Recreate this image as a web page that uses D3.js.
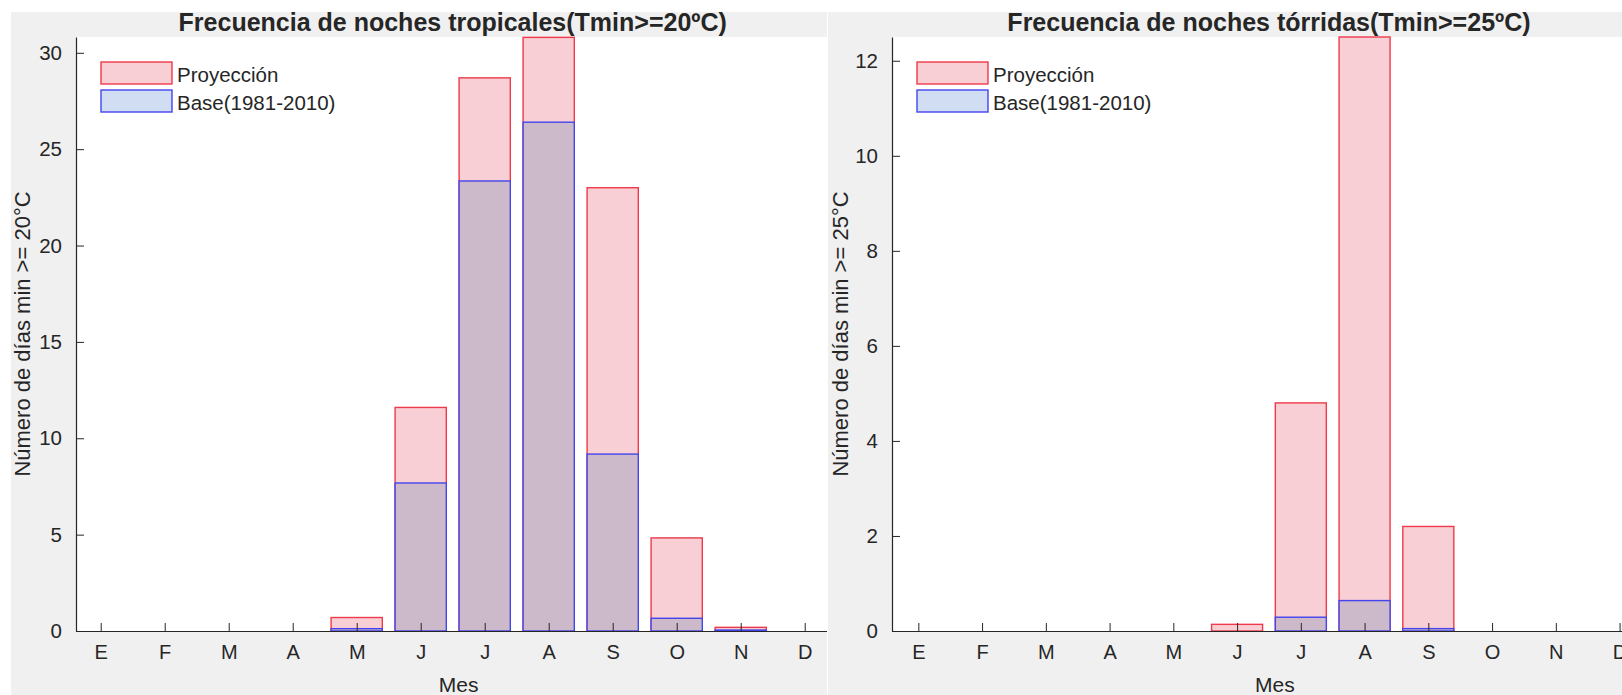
<!DOCTYPE html>
<html>
<head>
<meta charset="utf-8">
<script src="https://cdn.jsdelivr.net/npm/d3@7"></script>
<style>
  html, body { margin: 0; padding: 0; background: #ffffff; }
  svg { display: block; }
  text { font-family: "Liberation Sans", Arial, Helvetica, sans-serif; fill: #262626; }
</style>
</head>
<body>
<svg id="chart" width="1622" height="695"></svg>
<script>
// ---------------- data ----------------
const months = ["E", "F", "M", "A", "M", "J", "J", "A", "S", "O", "N", "D"];
const monthIndex = [1, 2, 3, 4, 5, 6, 7, 8, 9, 10, 11, 12];

const tropProj = [0, 0, 0, 0, 0.70, 11.6, 28.7, 30.8, 23.0, 4.83, 0.19, 0];
const tropBase = [0, 0, 0, 0, 0.12, 7.68, 23.35, 26.4, 9.18, 0.66, 0.05, 0];
const tropTicks = [0, 5, 10, 15, 20, 25, 30];

const torrProj = [0, 0, 0, 0, 0, 0.14, 4.8, 12.5, 2.2, 0, 0, 0];
const torrBase = [0, 0, 0, 0, 0, 0, 0.29, 0.64, 0.05, 0, 0, 0];
const torrTicks = [0, 2, 4, 6, 8, 10, 12];

const titles = ["Frecuencia de noches tropicales(Tmin>=20ºC)", "Frecuencia de noches tórridas(Tmin>=25ºC)"];
const yLabels = ["Número de días min >= 20°C", "Número de días min >= 25°C"];
const xLabel = "Mes";
const legendLabels = ["Proyección", "Base(1981-2010)"];

// ---------------- style ----------------
const C = {
  figBg: "#f0f0f0",
  axis: "#262626",
  projFill: "#f7cfd4",
  projStroke: "#ee3a4a",
  baseFill: "#ccb9c9",
  baseLegendFill: "#d0ddf3",
  baseStroke: "#4444ee"
};

const svg = d3.select("#chart");

function panel(opts) {
  const g = svg.append("g");
  // figure background
  g.append("rect")
    .attr("x", opts.figX0).attr("y", 12)
    .attr("width", opts.figX1 - opts.figX0).attr("height", 695 - 12)
    .attr("fill", C.figBg);

  const clipId = "clip" + opts.id;
  svg.append("clipPath").attr("id", clipId)
    .append("rect")
    .attr("x", opts.figX0).attr("y", 0)
    .attr("width", opts.figX1 - opts.figX0).attr("height", 695);

  const inner = g.append("g").attr("clip-path", `url(#${clipId})`);

  const x = d3.scaleLinear().domain(opts.xDomain).range([opts.axisX, opts.axisX + (opts.xDomain[1] - opts.xDomain[0]) * opts.unit]);
  const y = d3.scaleLinear().domain([0, opts.yMax]).range([631, 37]);

  // plot area
  inner.append("rect")
    .attr("x", x.range()[0]).attr("y", y.range()[1])
    .attr("width", x.range()[1] - x.range()[0])
    .attr("height", y.range()[0] - y.range()[1])
    .attr("fill", "#ffffff");

  const bw = 0.8;
  const projData = monthIndex.map((m, i) => ({ m, v: opts.proj[i] })).filter(d => d.v > 0);
  const baseData = monthIndex.map((m, i) => ({ m, v: opts.base[i] })).filter(d => d.v > 0);

  inner.selectAll(".proj").data(projData).enter().append("rect")
    .attr("x", d => x(d.m - bw / 2))
    .attr("y", d => y(d.v))
    .attr("width", d => x(d.m + bw / 2) - x(d.m - bw / 2))
    .attr("height", d => y(0) - y(d.v))
    .attr("fill", C.projFill)
    .attr("stroke", C.projStroke)
    .attr("stroke-width", 1.4);

  inner.selectAll(".base").data(baseData).enter().append("rect")
    .attr("x", d => x(d.m - bw / 2))
    .attr("y", d => y(d.v))
    .attr("width", d => x(d.m + bw / 2) - x(d.m - bw / 2))
    .attr("height", d => y(0) - y(d.v))
    .attr("fill", C.baseFill)
    .attr("stroke", C.baseStroke)
    .attr("stroke-width", 1.4);

  // axes
  const xAxis = d3.axisBottom(x).tickValues(monthIndex)
    .tickFormat((d, i) => months[i]).tickSizeInner(-8).tickSizeOuter(0).tickPadding(14);
  const gx = inner.append("g").attr("transform", `translate(0,${y(0)})`).call(xAxis);
  gx.select(".domain").attr("stroke", C.axis).attr("stroke-width", 1.2);
  gx.selectAll(".tick line").attr("stroke", C.axis);
  gx.selectAll(".tick text").attr("font-size", 20).attr("fill", C.axis)
    .style("font-family", '"Liberation Sans", Arial, sans-serif');

  const yAxis = d3.axisLeft(y).tickValues(opts.ticks).tickFormat(d3.format("d"))
    .tickSizeInner(-8).tickSizeOuter(0).tickPadding(14);
  const gy = inner.append("g").attr("transform", `translate(${opts.axisX},0)`).call(yAxis);
  gy.select(".domain").attr("stroke", C.axis).attr("stroke-width", 1.2);
  gy.selectAll(".tick line").attr("stroke", C.axis);
  gy.selectAll(".tick text").attr("font-size", 20.5).attr("fill", C.axis)
    .style("font-family", '"Liberation Sans", Arial, sans-serif');

  // title
  const cx = (x.range()[0] + x.range()[1]) / 2;
  inner.append("text")
    .attr("x", cx).attr("y", 31)
    .attr("text-anchor", "middle")
    .attr("font-size", 25).attr("font-weight", "bold")
    .attr("fill", "#000")
    .text(opts.title);

  // y label
  inner.append("text")
    .attr("transform", `translate(${opts.yLabelX},334) rotate(-90)`)
    .attr("text-anchor", "middle")
    .attr("dominant-baseline", "central")
    .attr("font-size", 22)
    .text(opts.yLabel);

  // x label
  inner.append("text")
    .attr("x", cx + 6).attr("y", 684)
    .attr("text-anchor", "middle")
    .attr("dominant-baseline", "central")
    .attr("font-size", 21)
    .text(xLabel);

  // legend
  const lg = inner.append("g");
  const items = [
    { label: legendLabels[0], fill: C.projFill, stroke: C.projStroke, y: 62 },
    { label: legendLabels[1], fill: C.baseLegendFill, stroke: C.baseStroke, y: 90 }
  ];
  items.forEach(it => {
    lg.append("rect")
      .attr("x", opts.axisX + 25).attr("y", it.y)
      .attr("width", 71).attr("height", 22)
      .attr("fill", it.fill).attr("stroke", it.stroke).attr("stroke-width", 1.4);
    lg.append("text")
      .attr("x", opts.axisX + 101).attr("y", it.y + 12)
      .attr("dominant-baseline", "central")
      .attr("font-size", 20.5)
      .text(it.label);
  });
}

panel({
  id: "L", figX0: 11, figX1: 827, axisX: 76, unit: 64, xDomain: [0.614, 12.386],
  yMax: 30.82, ticks: tropTicks, proj: tropProj, base: tropBase,
  title: titles[0], yLabel: yLabels[0], yLabelX: 22
});

panel({
  id: "R", figX0: 828, figX1: 1622, axisX: 892, unit: 63.75, xDomain: [0.587, 12.413],
  yMax: 12.5, ticks: torrTicks, proj: torrProj, base: torrBase,
  title: titles[1], yLabel: yLabels[1], yLabelX: 840
});
</script>
</body>
</html>
